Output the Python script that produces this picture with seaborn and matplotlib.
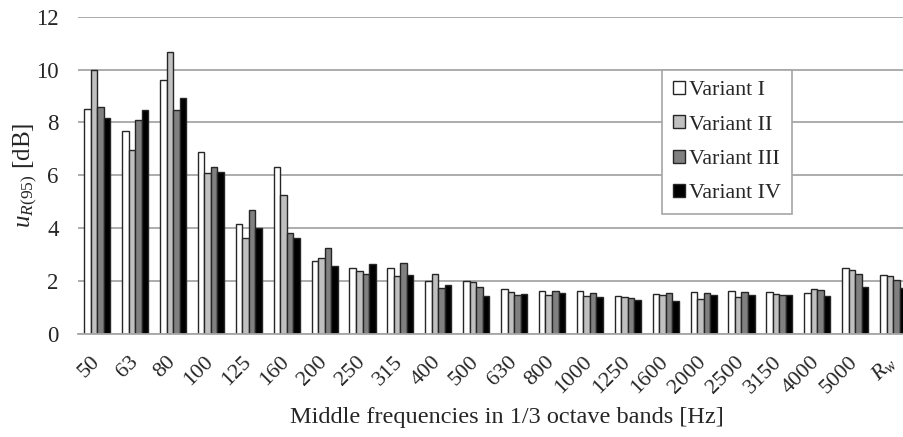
import matplotlib
matplotlib.use('Agg')
import matplotlib.pyplot as plt
import numpy as np
import pandas as pd
import seaborn as sns

# ---- data ----
BANDS = ['50', '63', '80', '100', '125', '160', '200', '250', '315', '400', '500',
         '630', '800', '1000', '1250', '1600', '2000', '2500', '3150', '4000', '5000',
         r'$R_w$']
VARIANT_I = [8.50, 7.67, 9.61, 6.90, 4.16, 6.33, 2.77, 2.48, 2.51, 2.01, 2.01,
             1.69, 1.63, 1.61, 1.42, 1.50, 1.60, 1.61, 1.60, 1.55, 2.50, 2.24]
VARIANT_II = [9.99, 6.95, 10.67, 6.09, 3.63, 5.27, 2.89, 2.40, 2.21, 2.28, 1.95,
              1.58, 1.48, 1.44, 1.41, 1.49, 1.31, 1.41, 1.50, 1.71, 2.42, 2.19]
VARIANT_III = [8.59, 8.08, 8.46, 6.31, 4.69, 3.83, 3.25, 2.28, 2.67, 1.73, 1.77,
               1.49, 1.63, 1.55, 1.37, 1.56, 1.54, 1.59, 1.48, 1.66, 2.28, 2.03]
VARIANT_IV = [8.16, 8.46, 8.94, 6.12, 4.02, 3.63, 2.56, 2.64, 2.24, 1.87, 1.44,
              1.51, 1.54, 1.41, 1.29, 1.26, 1.48, 1.49, 1.46, 1.45, 1.79, 1.75]
VARIANTS = ['Variant I', 'Variant II', 'Variant III', 'Variant IV']
COLORS = ['#ffffff', '#c0c0c0', '#808080', '#000000']

df = pd.concat([
    pd.DataFrame({'band': BANDS, 'value': vals, 'variant': name})
    for name, vals in zip(VARIANTS, [VARIANT_I, VARIANT_II, VARIANT_III, VARIANT_IV])
], ignore_index=True)

sns.set_style('white')
plt.rcParams['font.family'] = ['Liberation Serif', 'DejaVu Serif']
plt.rcParams['mathtext.fontset'] = 'custom'
plt.rcParams['mathtext.rm'] = 'Liberation Serif'
plt.rcParams['mathtext.it'] = 'Liberation Serif:italic'

W, H = 904, 437
fig = plt.figure(figsize=(W / 100, H / 100), dpi=100)
x0, x1, y0, y1 = 78.3, 912.0, 16.7, 334.0
ax = fig.add_axes([x0 / W, 1 - y1 / H, (x1 - x0) / W, (y1 - y0) / H])

sns.barplot(data=df, x='band', y='value', hue='variant', order=BANDS,
            hue_order=VARIANTS, palette=COLORS, width=0.69, gap=0,
            edgecolor='#262626', linewidth=1.0, ax=ax, legend=True)

ax.set_xlim(-0.5, len(BANDS) - 0.5)
ax.set_ylim(0, 12)
ax.set_yticks(np.arange(0, 13, 2))
ax.yaxis.grid(True, color='#a6a6a6', linewidth=1.3)
ax.set_axisbelow(True)
for side in ['left', 'right', 'top']:
    ax.spines[side].set_visible(False)
ax.spines['bottom'].set_color('#a6a6a6')
ax.spines['bottom'].set_linewidth(1.3)

ax.tick_params(axis='y', length=0, pad=14, labelsize=16.5)
ax.tick_params(axis='x', which='major', length=0, pad=18, labelsize=16)
ax.set_xticks(np.arange(-0.5, len(BANDS)), minor=True)
ax.tick_params(axis='x', which='minor', length=5, color='#a6a6a6', width=1.2)
for lbl in ax.get_xticklabels():
    lbl.set_rotation(45)
    lbl.set_ha('right')
    lbl.set_va('center')
    lbl.set_rotation_mode('anchor')

ax.set_xlabel('Middle frequencies in 1/3 octave bands [Hz]', fontsize=17.5)
ax.xaxis.set_label_coords(0.514, -0.23)
ax.xaxis.label.set_va('top')
ax.set_ylabel(r'$u_{R\mathrm{(95)}}$ [dB]', fontsize=18)
ax.yaxis.set_label_coords(-0.064, 0.5)
ax.yaxis.label.set_va('center')

leg = ax.legend(loc='upper left', bbox_to_anchor=(661.7 / W, 1 - 70 / H),
                bbox_transform=fig.transFigure, frameon=True, fancybox=False,
                fontsize=15.8, handlelength=0.55, handleheight=0.55,
                handletextpad=0.2, labelspacing=0.68, borderpad=0.5,
                borderaxespad=0)
leg.get_frame().set_edgecolor('#a6a6a6')
leg.get_frame().set_linewidth(1.2)
leg.get_frame().set_alpha(1)

fig.savefig('out.png', dpi=100)
